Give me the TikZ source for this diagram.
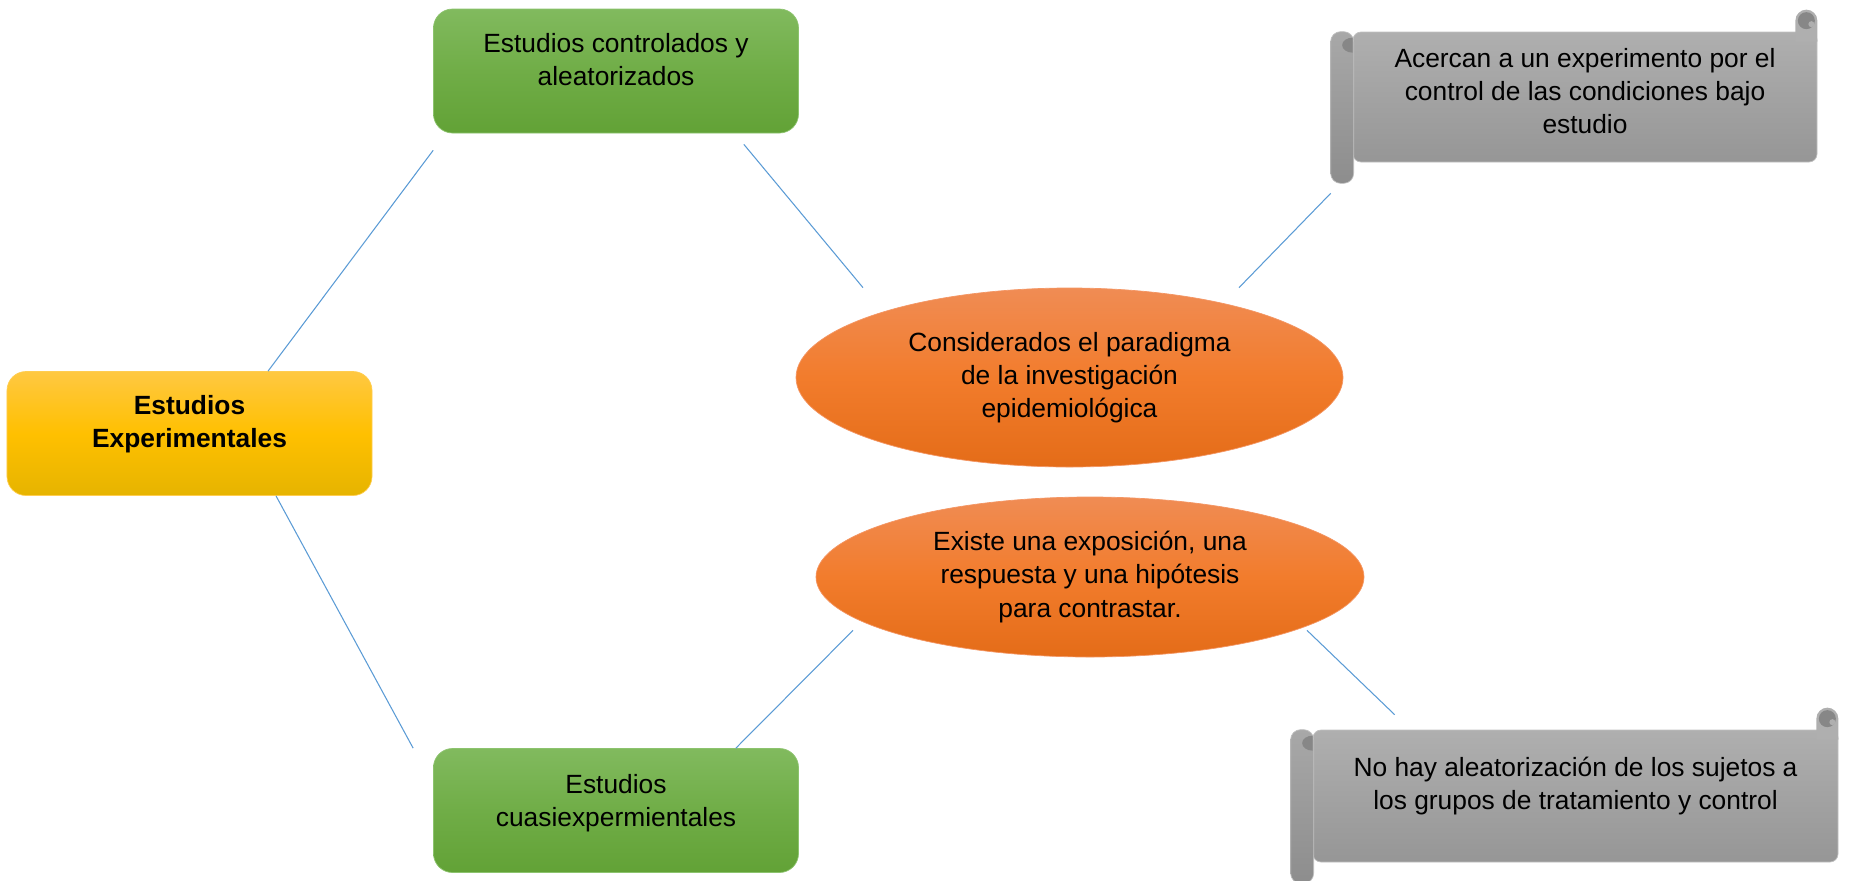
\documentclass[tikz,border=0pt]{standalone}
\usepackage{fontspec}
\setmainfont{Liberation Sans}
\usetikzlibrary{shapes.geometric}
\definecolor{lineblue}{RGB}{91,155,213}
\definecolor{grtop}{RGB}{129,186,94}
\definecolor{grmid}{RGB}{112,173,71}
\definecolor{grbot}{RGB}{98,162,54}
\definecolor{grline}{RGB}{140,195,110}
\definecolor{yetop}{RGB}{255,200,66}
\definecolor{yemid}{RGB}{255,192,0}
\definecolor{yebot}{RGB}{230,180,0}
\definecolor{yeline}{RGB}{255,205,80}
\definecolor{ortop}{RGB}{240,140,84}
\definecolor{ormid}{RGB}{242,124,44}
\definecolor{orbot}{RGB}{228,108,24}
\definecolor{orline}{RGB}{244,150,100}
\definecolor{gytop}{RGB}{175,175,175}
\definecolor{gybot}{RGB}{150,150,150}
\definecolor{gyline}{RGB}{192,192,192}
\definecolor{gydark}{RGB}{135,135,135}
\tikzstyle{link} = [draw=lineblue, line width=0.6pt]

\begin{document}
\begin{tikzpicture}
   \tikzset{block/.style={draw, rectangle, rounded corners=0.38cm, align=center, inner sep=0pt, minimum width=7.3cm, minimum height=2.48cm, text depth=0.48cm, font=\fontsize{15}{18.8}\selectfont},
   gblock/.style={block, top color=grtop, bottom color=grbot, middle color=grmid, draw=grline},
   yblock/.style={block, top color=yetop, bottom color=yebot, middle color=yemid, draw=yeline, font=\bfseries\fontsize{15}{18.8}\selectfont},
   oval/.style={draw=orline, ellipse, align=center, inner sep=0pt, top color=ortop, bottom color=orbot, middle color=ormid, font=\fontsize{15}{18.8}\selectfont},
   scroll/.style={draw=gyline, rectangle, rounded corners=0.16cm, align=center, inner sep=0pt, top color=gytop, bottom color=gybot, font=\fontsize{15}{18.8}\selectfont},
   roll/.style={draw=gyline, rounded corners=0.2cm, top color=gytop!96!black, bottom color=gybot!94!black},
   curl/.style={fill=gydark}
   }
 \useasboundingbox (0,0) rectangle (37,-17.6);

 \node [yblock] (exp) at (3.79,-8.67) {Estudios\\Experimentales};
 \node [gblock, right of=exp, xshift=7.53cm, yshift=7.25cm] (ctrl) {Estudios controlados y\\aleatorizados};
 \node [gblock, below of=ctrl, yshift=-13.79cm, text depth=0.42cm] (cuasi) {Estudios\\cuasiexpermientales};

 \node [oval, right of=ctrl, xshift=8.07cm, yshift=-6.13cm, minimum width=10.94cm, minimum height=3.58cm] (cons) {Considerados el paradigma\\de la investigación\\epidemiológica};
 \node [oval, below of=cons, xshift=0.41cm, yshift=-2.99cm, minimum width=10.96cm, minimum height=3.2cm] (expo) {Existe una exposición, una\\respuesta y una hipótesis\\para contrastar.};

 \node [scroll, right of=cons, xshift=9.31cm, yshift=5.61cm, minimum width=9.28cm, minimum height=2.6cm, text depth=0.26cm] (acer) {Acercan a un experimento por el\\control de las condiciones bajo\\estudio};
 \node [scroll, right of=expo, xshift=8.71cm, yshift=-4.38cm, minimum width=10.5cm, minimum height=2.64cm, text depth=0.5cm] (noal) {No hay aleatorización de los sujetos a\\los grupos de tratamiento y control};

 % rolled ends of the scrolls
 \foreach \sname in {acer, noal} {
   \draw [roll] ([xshift=-0.44cm]\sname.north west) rectangle ([xshift=0.02cm, yshift=-0.42cm]\sname.south west);
   \fill [curl] ([yshift=-0.12cm]\sname.north west) arc [start angle=90, end angle=270, x radius=0.21cm, y radius=0.15cm] -- cycle;
   \fill [gytop] ([xshift=-0.44cm, yshift=-0.2cm]\sname.north east) -- ++(0,0.42) arc [start angle=180, end angle=0, radius=0.22cm] -- ++(0,-0.42) -- cycle;
   \fill [curl] ([xshift=-0.22cm, yshift=0.22cm]\sname.north east) circle [radius=0.17cm];
   \fill [gytop] ([xshift=-0.12cm, yshift=0.15cm]\sname.north east) circle [radius=0.06cm];
 }

 \draw [link] ([xshift=1.57cm]exp.north) -- ([yshift=-0.34cm]ctrl.south west);
 \draw [link] ([xshift=1.73cm]exp.south) -- ([xshift=-0.4cm]cuasi.north west);
 \draw [link] ([xshift=-1.1cm, yshift=-0.22cm]ctrl.south east) -- ([xshift=-4.13cm]cons.north);
 \draw [link] ([xshift=3.39cm]cons.north) -- ([xshift=-0.44cm, yshift=-0.62cm]acer.south west);
 \draw [link] ([xshift=-1.26cm]cuasi.north east) -- ([xshift=-4.74cm, yshift=0.54cm]expo.south);
 \draw [link] ([xshift=4.34cm, yshift=0.54cm]expo.south) -- ([xshift=1.64cm, yshift=0.3cm]noal.north west);
\end{tikzpicture}
\end{document}
